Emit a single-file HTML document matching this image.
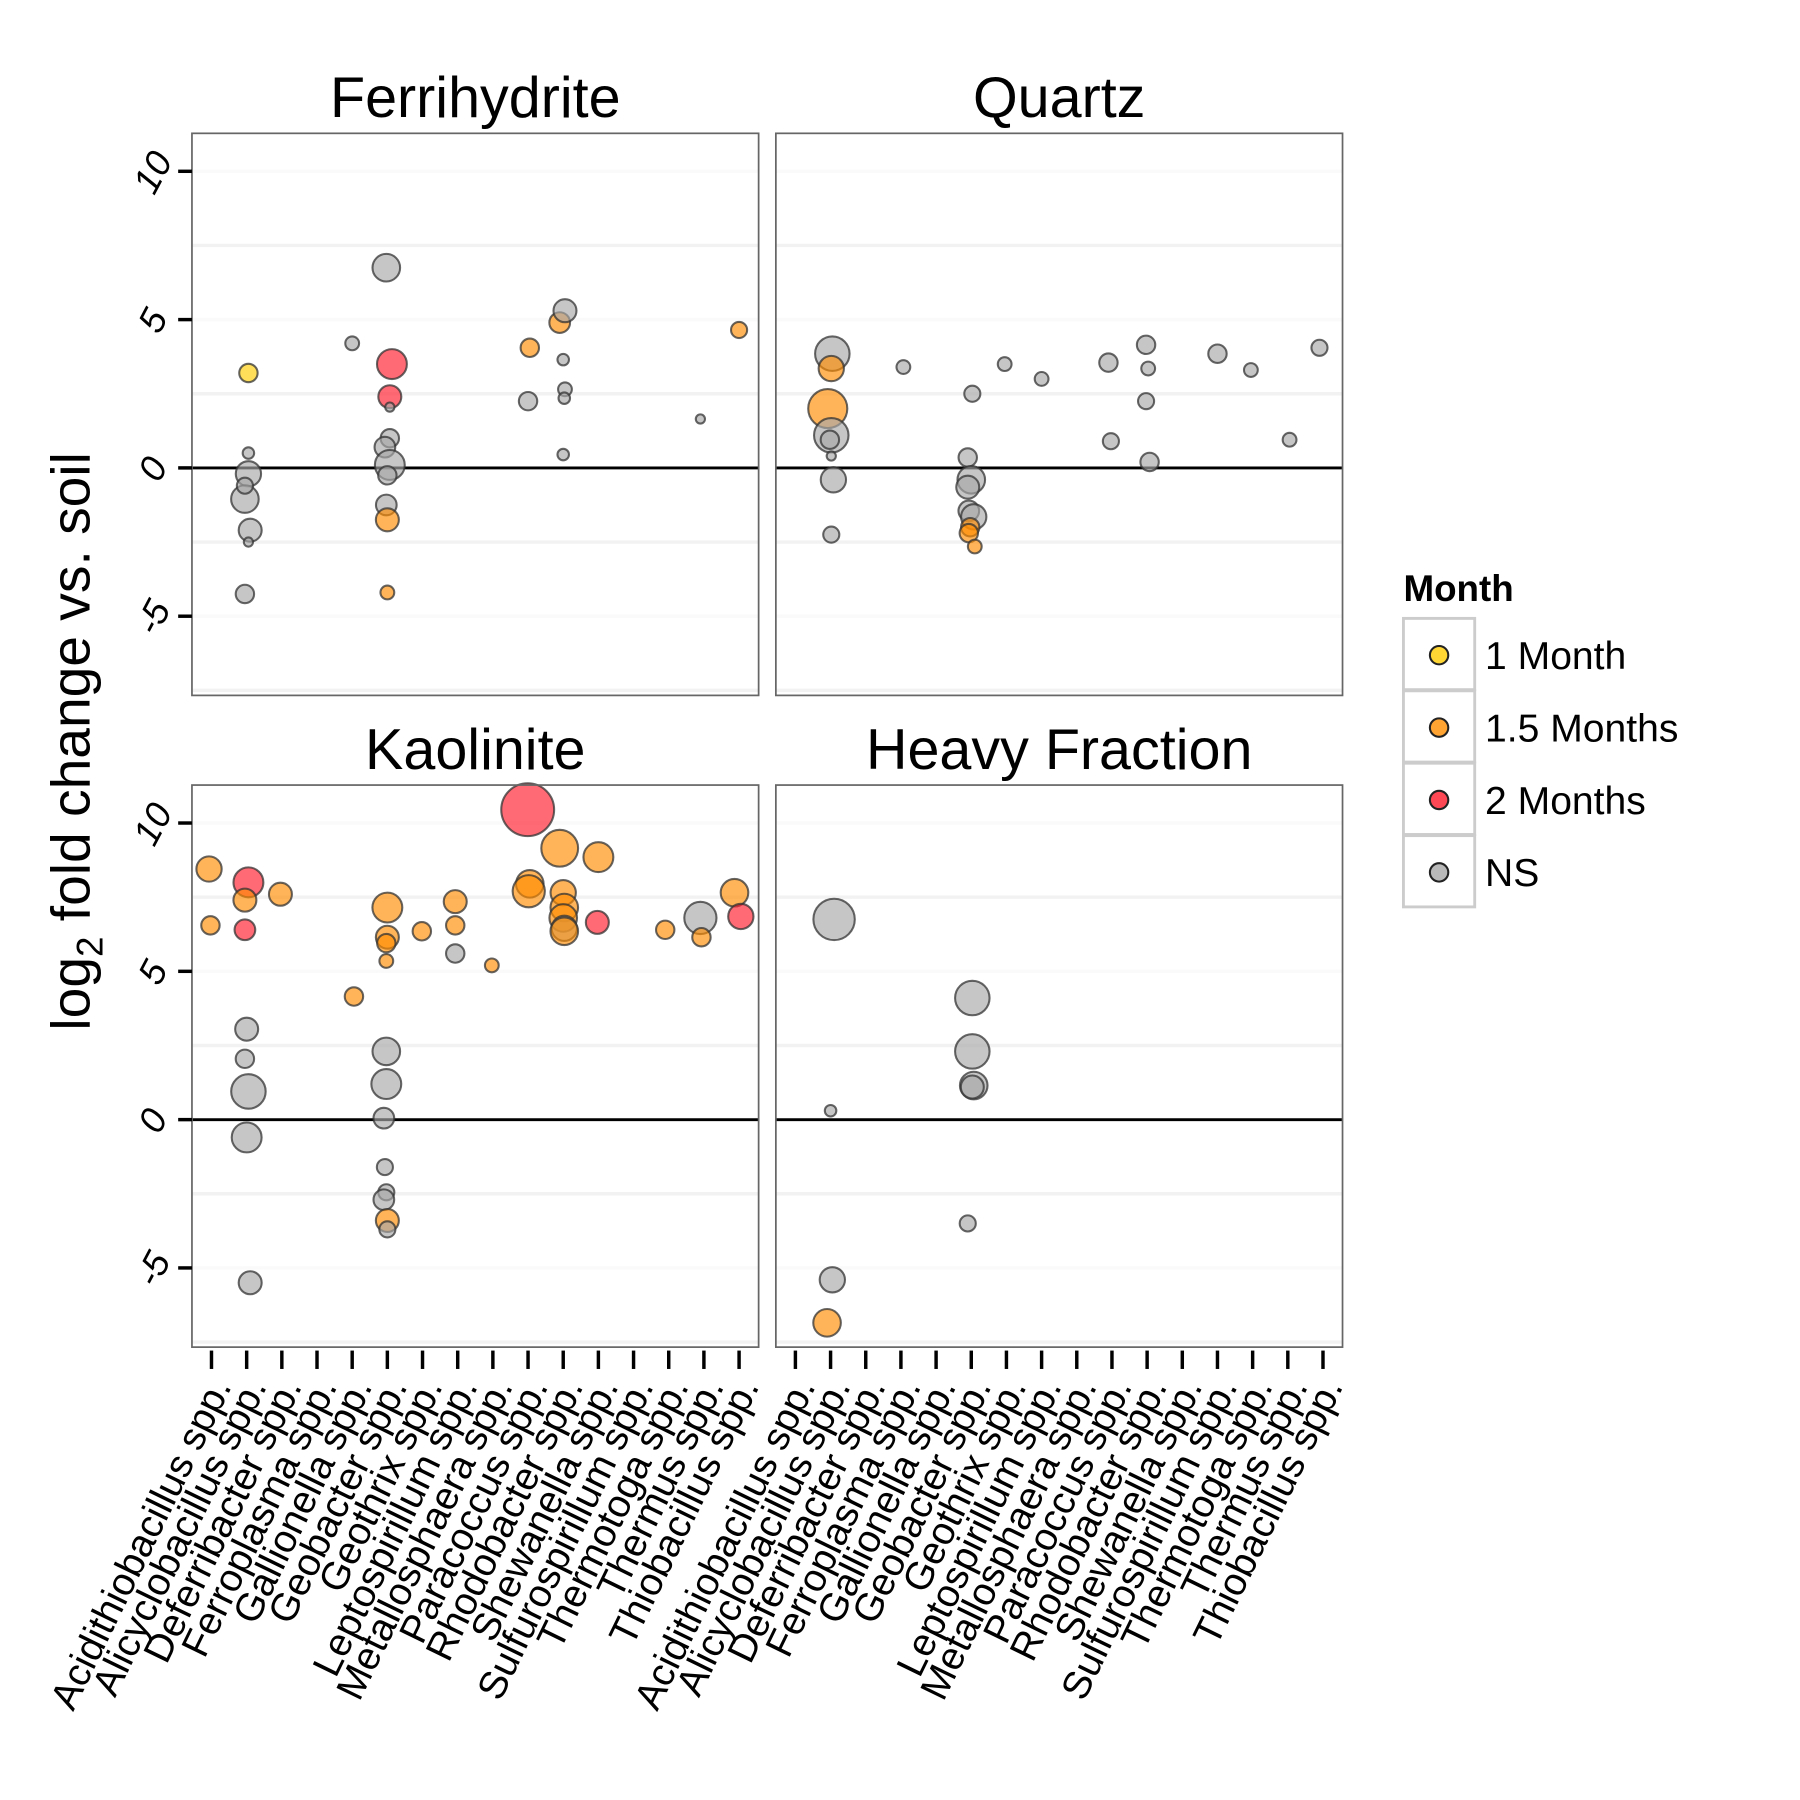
<!DOCTYPE html>
<html><head><meta charset="utf-8"><style>
html,body{margin:0;padding:0;background:#fff;}
svg{display:block;font-family:"Liberation Sans",sans-serif;}
</style></head><body>
<svg id="chart" width="1800" height="1800" viewBox="0 0 1566 1566" xmlns="http://www.w3.org/2000/svg"></svg>
<script>
const categories=["Acidithiobacillus","Alicyclobacillus","Deferribacter","Ferroplasma","Gallionella","Geobacter","Geothrix","Leptospirillum","Metallosphaera","Paracoccus","Rhodobacter","Shewanella","Sulfurospirillum","Thermotoga","Thermus","Thiobacillus"];
const yTicks=[-5,0,5,10];
const yTickLabels=["-5","0","5","10"];
const monthLevels=["1 Month","1.5 Months","2 Months","NS"];
const monthColors=["#FFCC00","#FF8C00","#FF1A2A","#A8A8A8"];
// each point: [category position (1-based, with jitter), log2 fold change, size, month index]
const ferrihydrite=[[2.05,3.2,8,0],[2.05,0.5,5,3],[2.05,-0.2,11,3],[1.95,-1.05,12,3],[1.95,-0.6,7,3],[2.1,-2.1,10,3],[2.05,-2.5,4,3],[1.95,-4.25,8,3],
[5.0,4.2,6,3],[5.97,6.75,12,3],[6.13,3.5,13,2],[6.07,2.4,10,2],[6.07,2.05,4,3],[6.07,1.0,8,3],[5.93,0.7,9,3],[6.07,0.1,13,3],[6.0,-0.25,8,3],[5.97,-1.25,9,3],[6.0,-1.75,10,1],[6.0,-4.2,6,1],
[10.05,4.05,8,1],[10.0,2.25,8,3],[10.9,4.9,9,1],[11.05,5.3,10,3],[11.0,3.65,5,3],[11.05,2.65,6,3],[11.03,2.35,5,3],[11.0,0.45,5,3],[14.9,1.65,4,3],[16.0,4.65,7,1]];
const quartz=[[2.05,3.85,15,3],[2.02,3.35,11,1],[1.92,2.0,17,1],[2.02,1.1,15,3],[1.98,0.95,8,3],[2.02,0.4,4,3],[2.08,-0.4,11,3],[2.02,-2.25,7,3],
[4.07,3.4,6,3],[6.03,2.5,7,3],[5.9,0.35,8,3],[6.0,-0.4,12,3],[5.9,-0.65,10,3],[5.93,-1.45,9,3],[6.07,-1.65,11,3],[5.97,-2.0,8,1],[5.93,-2.2,8,1],[6.1,-2.65,6,1],
[6.95,3.5,6,3],[8.0,3.0,6,3],[9.9,3.55,8,3],[9.97,0.9,7,3],[10.97,4.15,8,3],[11.03,3.35,6,3],[10.97,2.25,7,3],[11.07,0.2,8,3],[13.0,3.85,8,3],[13.95,3.3,6,3],[15.05,0.95,6,3],[15.9,4.05,7,3]];
const kaolinite=[[0.93,8.45,11,1],[0.97,6.55,8,1],[2.05,8.0,13,2],[1.95,7.4,10,1],[1.95,6.4,9,2],[2.0,3.05,10,3],[1.95,2.05,8,3],[2.05,0.95,15,3],[2.0,-0.6,13,3],[2.1,-5.5,10,3],
[2.96,7.6,10,1],[5.05,4.15,8,1],[6.0,7.15,13,1],[6.0,6.15,10,1],[5.97,5.95,8,1],[5.97,5.35,6,1],[5.97,2.3,12,3],[5.97,1.2,13,3],[5.9,0.05,9,3],[5.93,-1.6,7,3],[5.97,-2.45,7,3],[5.9,-2.7,9,3],[6.0,-3.4,10,1],[6.0,-3.7,7,3],
[6.98,6.35,8,1],[7.93,7.35,10,1],[7.93,6.55,8,1],[7.93,5.6,8,3],[8.97,5.2,6,1],[9.99,10.45,23,2],[10.05,7.95,12,1],[10.02,7.7,14,1],[10.9,9.15,16,1],[11.0,7.65,11,1],[11.03,7.15,12,1],[11.0,6.8,12,1],[11.03,6.45,11,3],[11.03,6.35,12,1],
[12.0,8.85,13,1],[11.97,6.65,10,2],[13.9,6.4,8,1],[14.9,6.8,14,3],[14.93,6.15,8,1],[15.87,7.65,12,1],[16.05,6.85,11,2]];
const heavyFraction=[[2.1,6.75,18,3],[2.0,0.3,5,3],[2.05,-5.4,11,3],[1.9,-6.85,12,1],[6.03,4.1,15,3],[6.03,2.3,15,3],[6.07,1.15,12,3],[6.03,1.1,10,3],[5.9,-3.5,7,3]];

const NS="http://www.w3.org/2000/svg";
const svg=document.getElementById('chart');
function mk(tag,attrs,parent){const e=document.createElementNS(NS,tag);for(const k in attrs)e.setAttribute(k,attrs[k]);(parent||svg).appendChild(e);return e;}

const panels=[
 {title:"Ferrihydrite",data:ferrihydrite,x0:167,y0:116,name:"ferrihydrite"},
 {title:"Quartz",data:quartz,x0:675,y0:116,name:"quartz"},
 {title:"Kaolinite",data:kaolinite,x0:167,y0:683,name:"kaolinite"},
 {title:"Heavy Fraction",data:heavyFraction,x0:675,y0:683,name:"heavy-fraction"}];
const PW=493,PH=489,YMAX=11.28,YMIN=-7.67;
panels.forEach((p,pi)=>{
 const g=mk('g',{});
 
 
 const xs=c=>p.x0+17+(c-1)*30.6;
 const ys=v=>p.y0+(YMAX-v)/(YMAX-YMIN)*PH;
 const t=mk('text',{x:p.x0+PW/2,y:p.y0-14,'text-anchor':'middle','font-size':50},g);
 t.textContent=p.title;
 
 
 for(let v=-7.5;v<=10;v+=2.5){
  const minor=Math.abs(v%5)>0.1;
  const gl=mk('line',{x1:p.x0,x2:p.x0+PW,y1:ys(v),y2:ys(v),stroke:minor?'#f2f2f2':'#fafafa','stroke-width':3},g);
  
  
 }
 const zl=mk('line',{x1:p.x0,x2:p.x0+PW,y1:ys(0),y2:ys(0),stroke:'#000','stroke-width':2.5},g);
 
 
 p.data.forEach(d=>{
  const c=mk('circle',{cx:xs(d[0]),cy:ys(d[1]),r:d[2],fill:monthColors[d[3]],'fill-opacity':0.65,stroke:'#333','stroke-opacity':0.75,'stroke-width':1.8},g);
  
  
 });
 const fr=mk('rect',{x:p.x0,y:p.y0,width:PW,height:PH,fill:'none',stroke:'#666','stroke-width':1.5},g);
 
 
 if(pi%2===0){
  yTicks.forEach((v,i)=>{
   const tk=mk('line',{x1:p.x0-12,x2:p.x0,y1:ys(v),y2:ys(v),stroke:'#000','stroke-width':3},g);
   
   
   const tl=mk('text',{x:0,y:0,'text-anchor':'middle','font-size':32,'font-style':'italic',transform:`translate(${p.x0-32},${ys(v)+2}) rotate(-62)`},g);
   tl.setAttribute('dominant-baseline','middle');
   tl.textContent=yTickLabels[i];
   
   
  });
 }
 if(pi>=2){
  categories.forEach((c,i)=>{
   const x=xs(i+1);
   const tk=mk('line',{x1:x,x2:x,y1:p.y0+PH+3,y2:p.y0+PH+19,stroke:'#000','stroke-width':3},g);
   
   
   const tl=mk('text',{x:0,y:0,'text-anchor':'end','font-size':34,transform:`translate(${x+18},${p.y0+PH+34}) rotate(-64)`},g);
   tl.textContent=c+' spp.';
   
   
  });
 }
});
// y axis title
const yt=mk('text',{x:0,y:0,'text-anchor':'middle','font-size':48,transform:'translate(78,645) rotate(-90)'});
yt.innerHTML='log<tspan font-size="32" dy="11">2</tspan><tspan dy="-11"> fold change vs. soil</tspan>';


// legend
const lg=mk('g',{});


const lt=mk('text',{x:1221,y:523,'font-size':32,'font-weight':'bold'},lg);
lt.textContent='Month';


monthLevels.forEach((m,i)=>{
 const y=538+i*63;
 const e=mk('g',{},lg);
 
 
 mk('rect',{x:1221,y:y,width:62,height:62,fill:'#fff',stroke:'#cccccc','stroke-width':2.5},e);
 mk('circle',{cx:1252,cy:y+32,r:8,fill:monthColors[i],'fill-opacity':0.8,stroke:'#222','stroke-width':1.8},e);
 const tx=mk('text',{x:1292,y:y+44,'font-size':34},e);
 tx.textContent=m;
});
</script>
</body></html>
